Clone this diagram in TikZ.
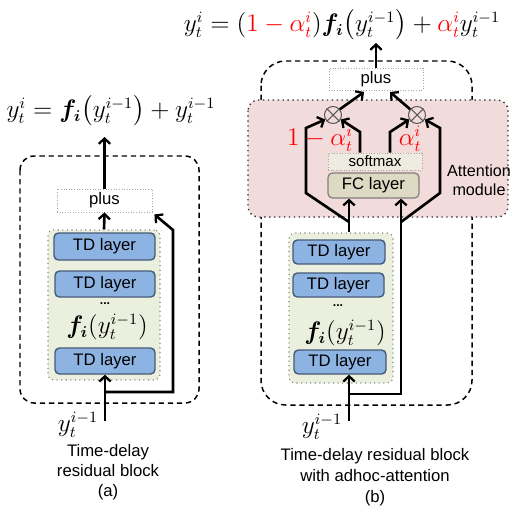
\documentclass[tikz,border=0pt]{standalone}
\usepackage{fontspec}
\usepackage{amsmath}
\usepackage{bm}
\usetikzlibrary{arrows.meta,fit,calc}
\newfontfamily\arialf{Liberation Sans}
\definecolor{tdblue}{RGB}{141,179,226}
\definecolor{tdedge}{RGB}{70,90,120}
\definecolor{greenbg}{RGB}{235,240,222}
\definecolor{pinkbg}{RGB}{242,220,219}
\definecolor{fcbg}{RGB}{221,217,195}
\definecolor{smbg}{RGB}{238,236,225}
\tikzset{
  sans/.style={font=\arialf\fontsize{9.5}{11.5}\selectfont},
  tdl/.style={sans, fill=tdblue, draw=tdedge, line width=0.8pt, rounded corners=2.5pt, inner sep=0pt},
  contbox/.style={fill=greenbg, draw=gray, dotted, line width=0.6pt, rounded corners=3pt, inner sep=0pt},
  plusbox/.style={sans, fill=white, draw=gray!70, densely dotted, line width=0.5pt, inner sep=0pt},
  smbox/.style={font=\arialf\fontsize{8.6}{10}\selectfont, fill=smbg, draw=gray!70, densely dotted, line width=0.5pt, inner sep=0pt},
  fcbox/.style={sans, fill=fcbg, draw=gray, line width=0.7pt, rounded corners=2.5pt, inner sep=0pt},
  outerdash/.style={draw=black, dash pattern=on 3pt off 2.2pt, line width=0.85pt},
  attbox/.style={fill=pinkbg, draw=black!80, dotted, line width=0.8pt, rounded corners=6pt},
  otim/.style={circle, draw=black!65, line width=0.6pt, minimum size=0.34cm, inner sep=0pt, fill=pinkbg},
  arr/.style={line width=1.5pt, -{Straight Barb[length=3pt,width=6.5pt,line width=1.3pt]}},
  mathf/.style={font=\fontsize{13.5}{16}\selectfont, inner sep=0pt},
}
\begin{document}
\begin{tikzpicture}[x=0.02cm,y=-0.02cm]
\useasboundingbox (0,0) rectangle (510,510);
% ---------------- (a) ----------------
\node[mathf] (eqA) at (111,111) {$y_t^i = \bm{f}_{\bm{i}}\bigl(y_t^{i-1}\bigr) + y_t^{i-1}$};
\draw[outerdash, rounded corners=8pt] (20,156) rectangle (199,403);
\node[plusbox, fit={(57,189)(152,212)}] (plusA) {};
\node[sans] at (plusA.center) {plus};
\node[contbox, fit={(48,230)(160,380)}] (contA) {};
\node[tdl, fit={(54,233)(155,260)}] (tdA1) {};
\node[sans] at (tdA1.center) {TD layer};
\node[tdl, fit={(55,271)(155,297)}] (tdA2) {};
\node[sans] at (tdA2.center) {TD layer};
\node[tdl, fit={(55,348)(155,374)}] (tdA3) {};
\node[sans] at (tdA3.center) {TD layer};
\node[sans, font=\arialf\bfseries\fontsize{7}{8}\selectfont] (dotsA) at (105,304) {...};
\node[mathf] (fA) at (107,327) {$\bm{f}_{\bm{i}}(y_t^{i-1})$};
\coordinate (outA) at (104.5,137);
\coordinate (inA) at (105,421);
\coordinate (skA0) at (105,392);
\coordinate (skA1) at (173,392);
\coordinate (skA2) at (173,230);
\draw[arr] (plusA.north) -- (outA);
\draw[arr] (contA.north) -- (plusA.south);
\draw[arr] (inA) -- (inA |- tdA3.south);
\draw[arr] (skA0) -- (skA1) -- (skA2) -- ($(plusA.south east)+(2,2)$);
\node[mathf] (yinA) at (78,425) {$y_t^{i-1}$};
\node[sans, align=center, font=\arialf\fontsize{9.5}{11.3}\selectfont] (capA) at (108,472) {Time-delay\\residual block\\(a)};
% ---------------- (b) ----------------
\node[mathf] (eqB) at (342,25) {$y_t^i = ({\color{red}1-\alpha_t^i})\bm{f}_{\bm{i}}\bigl(y_t^{i-1}\bigr) + {\color{red}\alpha_t^i}y_t^{i-1}$};
\draw[outerdash, rounded corners=14pt] (261,61) rectangle (472,405);
\node[plusbox, fit={(329,68)(423,90)}] (plusB) {};
\node[sans] at (plusB.center) {plus};
\draw[attbox] (248,100) rectangle (508,217);
\node[sans, align=center, font=\arialf\fontsize{9.2}{11}\selectfont] (attlab) at (479,180) {Attention\\module};
\node[otim] (oL) at (333,115) {};
\node[otim] (oR) at (417,115) {};
\draw[black!65, line width=0.6pt] (oL.45) -- (oL.225) (oL.135) -- (oL.315);
\draw[black!65, line width=0.6pt] (oR.45) -- (oR.225) (oR.135) -- (oR.315);
\node[smbox, fit={(328,153)(422,170)}] (smB) {};
\node[font=\arialf\fontsize{8.6}{10}\selectfont, inner sep=0pt] at (smB.center) {softmax};
\node[fcbox, fit={(328,173)(419,198)}] (fcB) {};
\node[sans] at (fcB.center) {FC layer};
\node[mathf, text=red] (aL) at (320,139) {$1-\alpha_t^i$};
\node[mathf, text=red] (aR) at (410,139) {$\alpha_t^i$};
\node[contbox, fit={(289,233)(393,383)}] (contB) {};
\node[tdl, fit={(293,240)(385,264)}] (tdB1) {};
\node[sans] at (tdB1.center) {TD layer};
\node[tdl, fit={(293,273)(384,297)}] (tdB2) {};
\node[sans] at (tdB2.center) {TD layer};
\node[tdl, fit={(294,350)(386,374)}] (tdB3) {};
\node[sans] at (tdB3.center) {TD layer};
\node[sans, font=\arialf\bfseries\fontsize{7}{8}\selectfont] (dotsB) at (338,306) {...};
\node[mathf] (fB) at (345,333) {$\bm{f}_{\bm{i}}(y_t^{i-1})$};
% connectors (b)
\coordinate (outB) at (376,43);
\coordinate (inB) at (349,421);
\coordinate (skB0) at (349,394);
\coordinate (skB1) at (401,394);
\coordinate (bL0) at (349,222);
\coordinate (bL1) at (306,193);
\coordinate (bL2) at (306,128);
\coordinate (bR0) at (401,222);
\coordinate (bR1) at (440,193);
\coordinate (bR2) at (440,128);
\coordinate (iL1) at (360,132);
\coordinate (iR1) at (390,132);
\coordinate (pL) at (364,92);
\coordinate (pR) at (390,92);
\draw[arr] (plusB.north) -- (outB);
\draw[arr] (inB) -- (inB |- tdB3.south);
\draw[arr] (skB0) -- (skB1) -- (skB1 |- fcB.south);
\draw[arr] (contB.north -| inB) -- (fcB.south -| inB);
\draw[arr] (bL0) -- (bL1) -- (bL2) -- (oL.210);
\draw[arr] (bR0) -- (bR1) -- (bR2) -- (oR.-30);
\draw[arr] (smB.north -| iL1) -- (iL1) -- (oL.-30);
\draw[arr] (smB.north -| iR1) -- (iR1) -- (oR.210);
\draw[arr] (oL.40) -- (pL);
\draw[arr] (oR.140) -- (pR);
\node[mathf] (yinB) at (322,427) {$y_t^{i-1}$};
\node[sans, align=center, font=\arialf\fontsize{9.5}{11.8}\selectfont] (capB) at (375,477) {Time-delay residual block\\with adhoc-attention\\(b)};
\end{tikzpicture}
\end{document}
